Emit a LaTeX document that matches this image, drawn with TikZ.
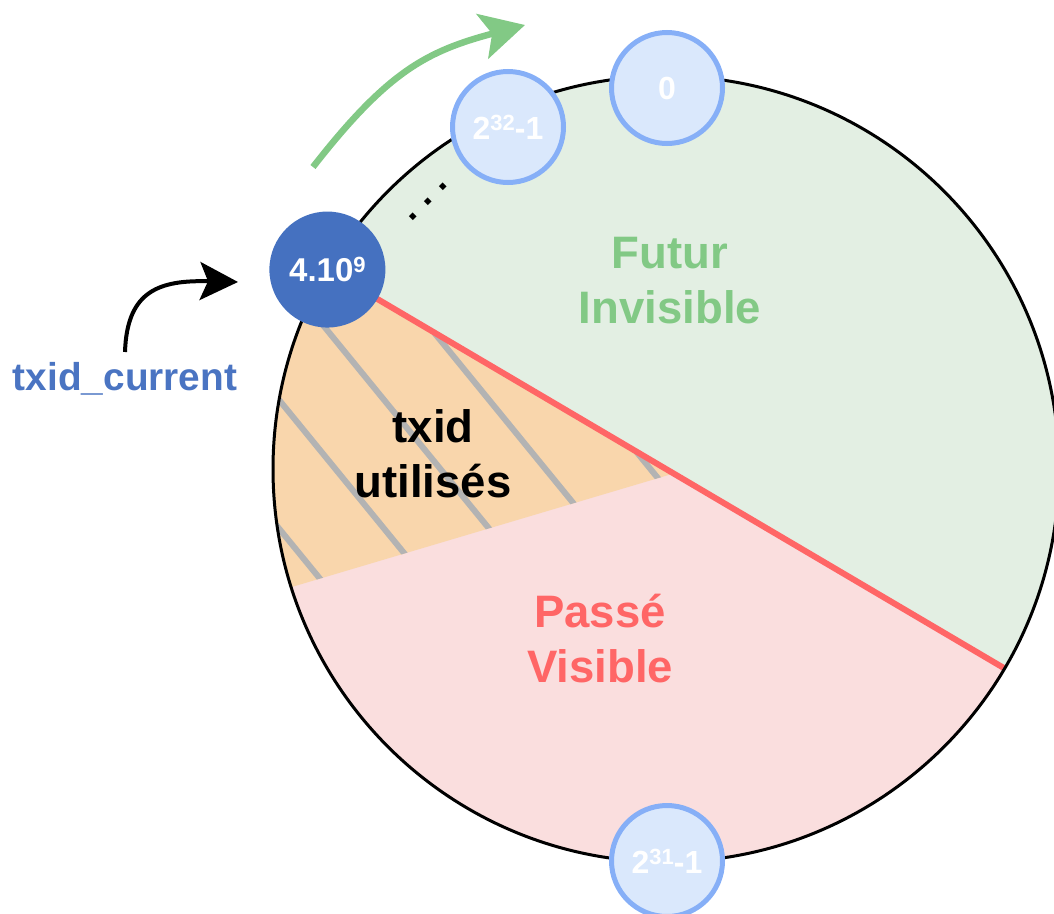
\documentclass[tikz,border=0pt]{standalone}
\usepackage{fontspec}
\setmainfont{Liberation Sans}
\usetikzlibrary{arrows.meta}
\definecolor{futurfill}{HTML}{E3EFE3}
\definecolor{passefill}{HTML}{FADEDE}
\definecolor{usedfill}{HTML}{F9D6AC}
\definecolor{redline}{HTML}{FF6666}
\definecolor{greentxt}{HTML}{82C985}
\definecolor{darkblue}{HTML}{4571C0}
\definecolor{lightfill}{HTML}{DAE8FC}
\definecolor{lightstroke}{HTML}{86AFF7}
\definecolor{hatchgray}{HTML}{B3B3B3}
\definecolor{curtxt}{HTML}{4A74C2}
\newcommand{\supnum}[1]{\raisebox{9pt}{\fontsize{22}{22}\selectfont #1}}
\begin{document}
\begin{tikzpicture}[x=1pt,y=-1pt,
  lightnode/.style={circle, fill=lightfill, draw=lightstroke, line width=5pt, minimum size=111pt, inner sep=0pt, text=white, font=\fontsize{32}{32}\selectfont\bfseries},
  darknode/.style={circle, fill=darkblue, minimum size=116pt, inner sep=0pt, text=white, font=\fontsize{33}{33}\selectfont\bfseries},
  biglabel/.style={font=\fontsize{45.5}{55}\selectfont\bfseries, align=center, anchor=base},
  hatchline/.style={draw=hatchgray, line width=6pt},
  dividerline/.style={draw=redline, line width=6pt},
  rimline/.style={draw=black, line width=3pt},
]
\useasboundingbox (0,0) rectangle (1054,913);
\def\R{393}
\begin{scope}[shift={(666,469)}]
  \fill[futurfill] (210.5:\R) arc[start angle=210.5, end angle=390.5, radius=\R] -- cycle;
  \fill[passefill] (30.5:\R) arc[start angle=30.5, end angle=210.5, radius=\R] -- cycle;
  \fill[usedfill] (6,5) -- (162.5:\R) arc[start angle=162.5, end angle=210.5, radius=\R] -- cycle;
  \begin{scope}
    \clip (6,5) -- (162.5:\R) arc[start angle=162.5, end angle=210.5, radius=\R] -- cycle;
    \foreach \k in {-4,...,3} {
      \draw[hatchline] ({-339+105*\k-253}, -449) -- ({-339+105*\k+253}, 171);
    }
  \end{scope}
  \coordinate (curpos) at (210.5:\R);
  \coordinate (redend) at (30.5:\R);
  \draw[dividerline] (curpos) -- (redend);
  \draw[rimline] (0,0) circle[radius=\R];
  \node[darknode] (cur) at (curpos) {4.10\supnum{9}};
  \node[lightnode] (zero) at (1,-381) {0};
  \node[lightnode] (max32) at (-158,-342) {2\supnum{32}-1};
  \node[lightnode] (max31) at (1,392) {2\supnum{31}-1};
\end{scope}
\node[rotate=45, font=\fontsize{38}{38}\selectfont\bfseries] (dots) at (428.5,202) {.\hspace{0.278em}.\hspace{0.278em}.};
\node[biglabel, text=greentxt] (futur) at (670,323) {Futur\\Invisible};
\node[biglabel, text=redline] (passe) at (600,682) {Passé\\Visible};
\node[biglabel, text=black] (used) at (433,497) {txid\\utilisés};
\node[font=\fontsize{38.8}{40}\selectfont\bfseries, text=curtxt, anchor=base] (current) at (125,390) {txid\_current};
\coordinate (curstart) at (125,352);
\coordinate (curtip) at (238,282);
\draw[-{Stealth[length=38pt,width=38pt,inset=8pt]}, line width=4pt] (curstart) .. controls (127,290) and (160,280) .. (curtip);
\coordinate (gstart) at (313,167);
\coordinate (gtip) at (525,25);
\draw[draw=greentxt, -{Stealth[length=44pt,width=46pt,inset=10pt]}, line width=6.5pt] (gstart) .. controls (388,71) and (427,51) .. (gtip);
\end{tikzpicture}
\end{document}
